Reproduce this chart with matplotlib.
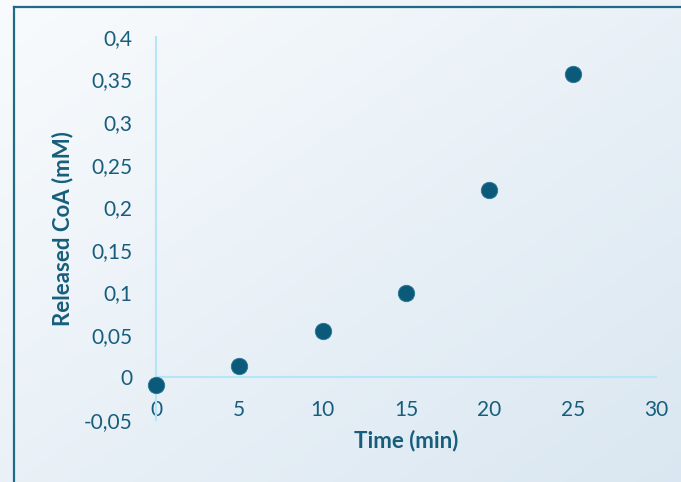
import numpy as np
import matplotlib.pyplot as plt
from matplotlib.lines import Line2D

time_min = [0, 5, 10, 15, 20, 25]
released_coa = [-0.009, 0.013, 0.054, 0.099, 0.220, 0.357]

x_ticks = [0, 5, 10, 15, 20, 25, 30]
y_ticks = [-0.05, 0, 0.05, 0.1, 0.15, 0.2, 0.25, 0.3, 0.35, 0.4]
y_labels = ["-0,05", "0", "0,05", "0,1", "0,15", "0,2", "0,25", "0,3", "0,35", "0,4"]

text_col = "#175e7c"
axis_col = "#b5e6f7"
dot_col = "#0c5a79"

W, H = 681, 482
fig = plt.figure(figsize=(W / 100, H / 100), dpi=100)

# gradient background
bg = fig.add_axes([0, 0, 1, 1], zorder=-10)
gx, gy = np.meshgrid(np.linspace(0, 1, 200), np.linspace(0, 1, 200))
t = (gx + gy) / 2
c0 = np.array([0.975, 0.985, 0.993])
c1 = np.array([0.855, 0.905, 0.945])
img = c0[None, None, :] * (1 - t[..., None]) + c1[None, None, :] * t[..., None]
bg.imshow(img, aspect="auto", extent=[0, 1, 0, 1], origin="upper")
bg.axis("off")

# frame lines (top and left)
fig.add_artist(Line2D([14 / W, 1], [1 - 7 / H, 1 - 7 / H], color="#1f6a85", lw=1.6))
fig.add_artist(Line2D([14 / W, 14 / W], [0, 1 - 7 / H], color="#1f6a85", lw=1.6))

ax = fig.add_axes([156 / W, 1 - 420 / H, 500 / W, 383 / H])
ax.patch.set_alpha(0)
ax.set_xlim(0, 30)
ax.set_ylim(-0.05, 0.4)

for s in ["top", "right"]:
    ax.spines[s].set_visible(False)
ax.spines["bottom"].set_position(("data", 0))
ax.spines["bottom"].set_color(axis_col)
ax.spines["left"].set_color(axis_col)
ax.spines["bottom"].set_linewidth(1.5)
ax.spines["left"].set_linewidth(1.5)

ax.scatter(time_min, released_coa, s=140, color=dot_col, edgecolors="#2b7896",
           linewidths=0.6, zorder=5, clip_on=False)

font = "Lato"
ax.set_xticks(x_ticks)
ax.set_xticklabels([str(v) for v in x_ticks], fontsize=15, color=text_col, family=font)
ax.set_yticks(y_ticks)
ax.set_yticklabels(y_labels, fontsize=15, color=text_col, family=font)
ax.tick_params(axis="x", length=0, pad=16)
ax.tick_params(axis="y", length=0, pad=17)

ax.set_xlabel("Time (min)", fontsize=16, fontweight="bold", color=text_col, family=font)
ax.xaxis.set_label_coords(0.5, -0.025)
ax.set_ylabel("Released CoA (mM)", fontsize=16, fontweight="bold", color=text_col, family=font)
ax.yaxis.set_label_coords(-0.166, 0.5)

fig.savefig("out.png", dpi=100)
